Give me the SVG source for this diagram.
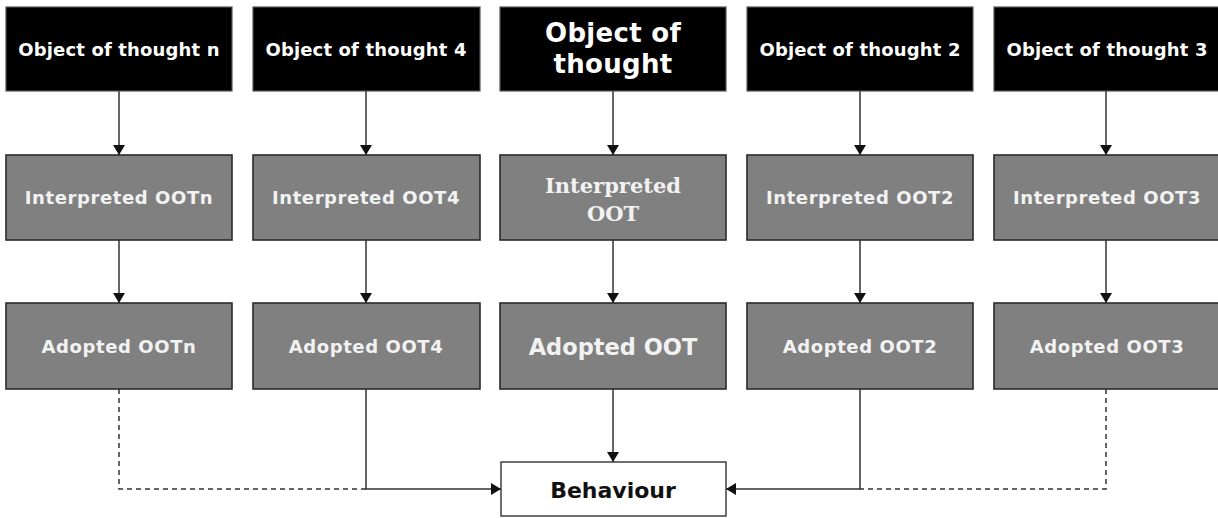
<svg xmlns="http://www.w3.org/2000/svg" width="1218" height="518" viewBox="0 0 1218 518">
  <style>
    .top { fill: #000; stroke: #555; stroke-width: 1.2; }
    .mid { fill: #808080; stroke: #2a2a2a; stroke-width: 1.6; }
    .out { fill: #fff; stroke: #333; stroke-width: 1.4; }
    .t { font-family: "DejaVu Sans", Verdana, sans-serif; font-weight: bold; text-anchor: middle; dominant-baseline: central; }
    .w { fill: #fff; font-size: 18px; letter-spacing: 0.15px; }
    .g { fill: #f2f2f2; font-size: 18px; letter-spacing: 0.6px; }
    .serif { font-family: "DejaVu Serif", Georgia, serif; letter-spacing: 0; }
    .link { fill: none; stroke: #333; stroke-width: 1.5; }
    .dash { stroke-dasharray: 5 4; }
  </style>
  <defs>
    <marker id="arrow" viewBox="0 0 10 12" refX="10" refY="6" markerWidth="11" markerHeight="12" markerUnits="userSpaceOnUse" orient="auto">
      <path d="M0,0 L10,6 L0,12 Z" fill="#111"/>
    </marker>
  </defs>
  <rect width="1218" height="518" fill="#fff"/>

  <!-- connectors -->
  <g id="connectors">
    <line class="link" x1="119" y1="91" x2="119" y2="155" marker-end="url(#arrow)"/>
    <line class="link" x1="366" y1="91" x2="366" y2="155" marker-end="url(#arrow)"/>
    <line class="link" x1="613" y1="91" x2="613" y2="155" marker-end="url(#arrow)"/>
    <line class="link" x1="860" y1="91" x2="860" y2="155" marker-end="url(#arrow)"/>
    <line class="link" x1="1106" y1="91" x2="1106" y2="155" marker-end="url(#arrow)"/>

    <line class="link" x1="119" y1="240" x2="119" y2="303" marker-end="url(#arrow)"/>
    <line class="link" x1="366" y1="240" x2="366" y2="303" marker-end="url(#arrow)"/>
    <line class="link" x1="613" y1="240" x2="613" y2="303" marker-end="url(#arrow)"/>
    <line class="link" x1="860" y1="240" x2="860" y2="303" marker-end="url(#arrow)"/>
    <line class="link" x1="1106" y1="240" x2="1106" y2="303" marker-end="url(#arrow)"/>

    <line class="link" x1="613" y1="389" x2="613" y2="462" marker-end="url(#arrow)"/>
    <path class="link" d="M366,389 V489 H501" marker-end="url(#arrow)"/>
    <path class="link" d="M860,389 V489 H726" marker-end="url(#arrow)"/>
    <path class="link dash" d="M119,389 V489 H366"/>
    <path class="link dash" d="M1106,389 V489 H860"/>
  </g>

  <!-- column n -->
  <g id="oot-n">
    <rect class="top" x="6" y="7" width="226" height="84"/>
    <text class="t w" x="119" y="49">Object of thought n</text>
  </g>
  <g id="interp-n">
    <rect class="mid" x="6" y="155" width="226" height="85"/>
    <text class="t g" x="119" y="197">Interpreted OOTn</text>
  </g>
  <g id="adopt-n">
    <rect class="mid" x="6" y="303" width="226" height="86"/>
    <text class="t g" x="119" y="346">Adopted OOTn</text>
  </g>

  <!-- column 4 -->
  <g id="oot-4">
    <rect class="top" x="253" y="7" width="227" height="84"/>
    <text class="t w" x="366" y="49">Object of thought 4</text>
  </g>
  <g id="interp-4">
    <rect class="mid" x="253" y="155" width="227" height="85"/>
    <text class="t g" x="366" y="197">Interpreted OOT4</text>
  </g>
  <g id="adopt-4">
    <rect class="mid" x="253" y="303" width="227" height="86"/>
    <text class="t g" x="366" y="346">Adopted OOT4</text>
  </g>

  <!-- central column -->
  <g id="oot">
    <rect class="top" x="500" y="7" width="226" height="84"/>
    <text class="t w" x="613" y="33" style="font-size:26px;letter-spacing:0.3px">Object of</text>
    <text class="t w" x="613" y="64" style="font-size:26px;letter-spacing:0.3px">thought</text>
  </g>
  <g id="interp">
    <rect class="mid" x="500" y="155" width="226" height="85"/>
    <text class="t g serif" x="613" y="185" style="font-size:21px">Interpreted</text>
    <text class="t g serif" x="613" y="213" style="font-size:21px">OOT</text>
  </g>
  <g id="adopt">
    <rect class="mid" x="500" y="303" width="226" height="86"/>
    <text class="t g" x="613" y="347" style="font-size:22.5px;letter-spacing:0">Adopted OOT</text>
  </g>

  <!-- column 2 -->
  <g id="oot-2">
    <rect class="top" x="747" y="7" width="226" height="84"/>
    <text class="t w" x="860" y="49">Object of thought 2</text>
  </g>
  <g id="interp-2">
    <rect class="mid" x="747" y="155" width="226" height="85"/>
    <text class="t g" x="860" y="197">Interpreted OOT2</text>
  </g>
  <g id="adopt-2">
    <rect class="mid" x="747" y="303" width="226" height="86"/>
    <text class="t g" x="860" y="346">Adopted OOT2</text>
  </g>

  <!-- column 3 -->
  <g id="oot-3">
    <rect class="top" x="994" y="7" width="226" height="84"/>
    <text class="t w" x="1107" y="49">Object of thought 3</text>
  </g>
  <g id="interp-3">
    <rect class="mid" x="994" y="155" width="226" height="85"/>
    <text class="t g" x="1107" y="197">Interpreted OOT3</text>
  </g>
  <g id="adopt-3">
    <rect class="mid" x="994" y="303" width="226" height="86"/>
    <text class="t g" x="1107" y="346">Adopted OOT3</text>
  </g>

  <!-- outcome -->
  <g id="behaviour">
    <rect class="out" x="501" y="462" width="225" height="54"/>
    <text class="t" x="613" y="490" style="font-size:22px;fill:#111">Behaviour</text>
  </g>
</svg>
